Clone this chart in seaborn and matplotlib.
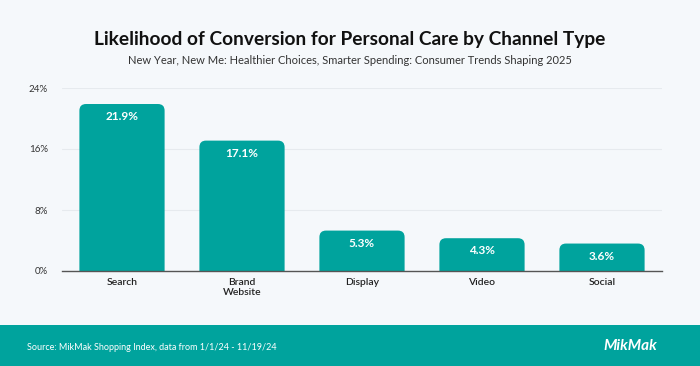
import matplotlib
matplotlib.use("Agg")
import matplotlib.pyplot as plt
import seaborn as sns
import pandas as pd
from matplotlib.patches import FancyBboxPatch, Rectangle

# Datos
channels = ["Search", "Brand\nWebsite", "Display", "Video", "Social"]
conversion = [21.9, 17.1, 5.3, 4.3, 3.6]
y_ticks = [0, 8, 16, 24]
y_tick_labels = ["0%", "8%", "16%", "24%"]

teal = "#00A39D"
bg = "#F5F8FB"

sns.set_theme(style="white")
plt.rcParams["font.family"] = ["Lato", "DejaVu Sans"]

df = pd.DataFrame({"Canal": channels, "Conversion": conversion})

fig = plt.figure(figsize=(7, 3.66), dpi=100, facecolor=bg)
ax = fig.add_axes([62 / 700, 1 - 271 / 366, 600 / 700, 183 / 366])
ax.set_facecolor(bg)

sns.barplot(data=df, x="Canal", y="Conversion", color=teal, width=0.71,
            saturation=1, ax=ax, zorder=3)

# esquinas redondeadas: px por unidad x = 120, px por unidad y = 183/24
aspect = 120 / (183 / 24)
for bar in list(ax.patches):
    x, w, h = bar.get_x(), bar.get_width(), bar.get_height()
    rounded = FancyBboxPatch((x, -2), w, h + 2,
                             boxstyle="round,pad=0,rounding_size=0.055",
                             mutation_aspect=aspect,
                             facecolor=teal, edgecolor="none", zorder=3)
    ax.add_patch(rounded)
    bar.remove()

for i, v in enumerate(conversion):
    ax.annotate(f"{v}%", (i, v), xytext=(0, -9), textcoords="offset points",
                ha="center", va="center", color="white", fontsize=8.5,
                fontweight="bold", zorder=4)

ax.set_ylim(0, 24)
ax.set_xlim(-0.5, 4.5)
ax.set_yticks(y_ticks)
ax.set_yticklabels(y_tick_labels)
ax.yaxis.grid(True, color="#E6EAEE", linewidth=0.8, zorder=0)
ax.tick_params(axis="y", length=0, labelsize=7, labelcolor="#333333", pad=10)
ax.tick_params(axis="x", length=0, labelsize=7.5, labelcolor="#222222", pad=5)
for lbl in ax.get_xticklabels():
    lbl.set_linespacing(1.1)
    lbl.set_fontweight("semibold")
ax.set_xlabel("")
ax.set_ylabel("")
for s in ["top", "right", "left"]:
    ax.spines[s].set_visible(False)
ax.spines["bottom"].set_color("#555555")
ax.spines["bottom"].set_linewidth(1.0)
ax.spines["bottom"].set_zorder(5)

fig.text(0.5, 1 - 40 / 366, "Likelihood of Conversion for Personal Care by Channel Type",
         ha="center", va="center", fontsize=13.8, fontweight="bold", color="#111111")
fig.text(0.5, 1 - 61 / 366,
         "New Year, New Me: Healthier Choices, Smarter Spending: Consumer Trends Shaping 2025",
         ha="center", va="center", fontsize=8, color="#333333")

# pie de página
fig.patches.append(Rectangle((0, 0), 1, 41 / 366, transform=fig.transFigure,
                             facecolor=teal, edgecolor="none", zorder=0))
fig.text(27 / 700, 1 - 347 / 366, "Source: MikMak Shopping Index, data from 1/1/24 - 11/19/24",
         ha="left", va="center", fontsize=6.5, color="white")
fig.text(630 / 700, 1 - 346 / 366, "MikMak", ha="center", va="center",
         fontsize=11, fontweight="bold", fontstyle="italic", color="white")

fig.savefig("out.png", dpi=100, facecolor=bg)
